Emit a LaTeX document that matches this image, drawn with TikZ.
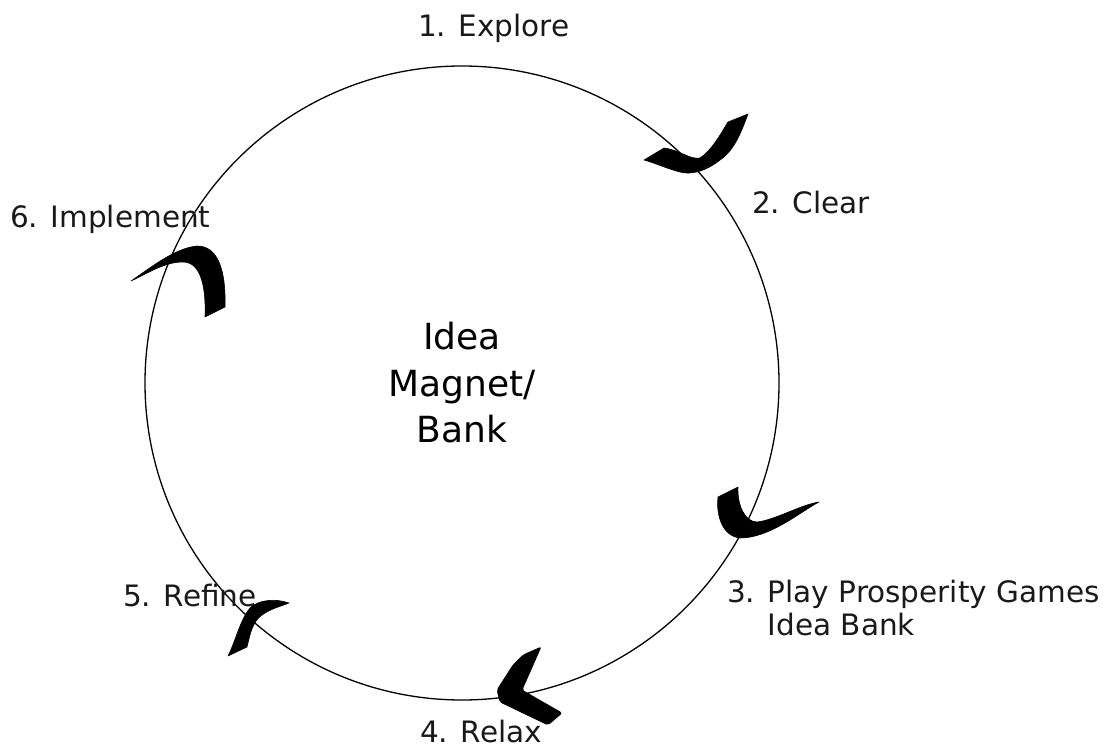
\documentclass[tikz,border=0pt]{standalone}
\usepackage{fontspec}
\setmainfont{DejaVu Sans}
\begin{document}
\begin{tikzpicture}[x=1pt,y=-1pt,
  ring/.style={circle, draw=black, line width=1.3pt, minimum size=634pt, inner sep=0pt,
    align=center, font=\fontsize{36}{46.5}\selectfont},
  lbl/.style={inner sep=0pt, font=\fontsize{29.5}{33}\selectfont, text=black!90},
  swoosh/.style={fill=black, draw=black, line width=0.6pt, line join=round}]
\useasboundingbox (0,0) rectangle (1106,746);
\node[ring] (hub) at (462,383) {Idea\\Magnet/\\Bank};
% labels
\node[lbl, anchor=base west] (l1) at (418,37) {1. Explore};
\node[lbl, anchor=base west] (l2) at (752,214) {2. Clear};
\node[lbl, anchor=north west, align=left] (l3) at (727,579.6) {3. Play Prosperity Games\\\phantom{3. }Idea Bank};
\node[lbl, anchor=base west] (l4) at (420,742) {4. Relax};
\node[lbl, anchor=base west] (l5) at (123,606) {5. Refine};
\node[lbl, anchor=base west] (l6) at (10,228) {6. Implement};
% swoosh arrows
\fill[swoosh] (644,160) -- (664,148) .. controls (680,150) and (690,160) .. (700,158)
  .. controls (712,150) and (720,135) .. (728,122) -- (748,114)
  .. controls (742,130) and (735,150) .. (720,160)
  .. controls (705,172) and (690,175) .. (680,172)
  .. controls (665,168) and (655,163) .. cycle;
\fill[swoosh] (718,497) -- (738,487) .. controls (737,505) and (745,522) .. (757,522)
  .. controls (775,520) and (800,505) .. (819,502)
  .. controls (800,512) and (770,538) .. (740,538)
  .. controls (722,536) and (716,515) .. cycle;
\fill[swoosh, rounded corners=2pt] (541,647) -- (523,655) -- (513,665) -- (497,690) -- (500,702)
  -- (548,725) -- (562,713) -- (522,690) -- (530,672) -- cycle;
\fill[swoosh] (289,603) .. controls (275,598) and (258,600) .. (250,608)
  .. controls (240,620) and (236,640) .. (228,656) -- (247,647)
  .. controls (250,635) and (252,622) .. (262,615)
  .. controls (272,608) and (282,606) .. cycle;
\fill[swoosh] (131,281) .. controls (150,268) and (175,248) .. (197,246)
  .. controls (218,246) and (226,270) .. (225,307) -- (205,317)
  .. controls (206,290) and (202,262) .. (183,262)
  .. controls (165,262) and (150,272) .. cycle;
\end{tikzpicture}
\end{document}
